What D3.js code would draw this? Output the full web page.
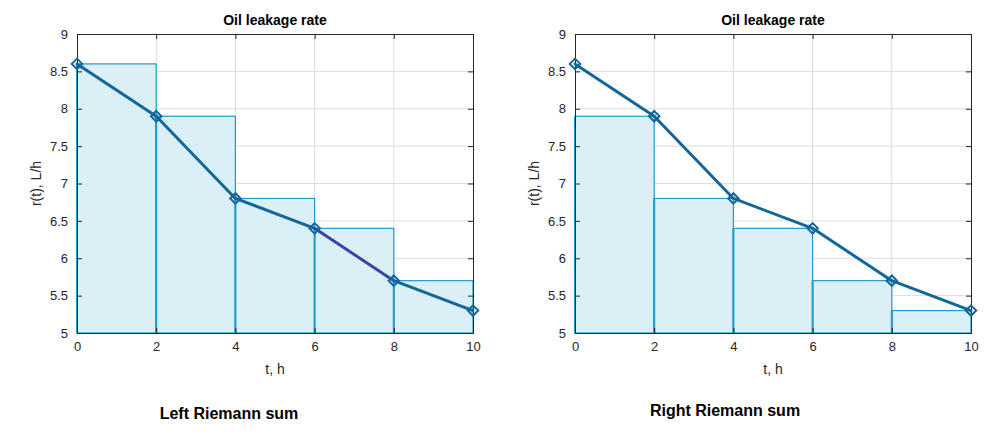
<!DOCTYPE html>
<html>
<head>
<meta charset="utf-8">
<script src="https://cdn.jsdelivr.net/npm/d3@7"></script>
<style>
  body { margin: 0; background: #fff; }
  svg { display: block; font-family: "Liberation Sans", Arial, sans-serif; }
</style>
</head>
<body>
<svg id="chart" width="993" height="438"></svg>
<script>
// ── Data ─────────────────────────────────────────────────────────
const times = [0, 2, 4, 6, 8, 10];
const rates = [8.6, 7.9, 6.8, 6.4, 5.7, 5.3];
const xTicks = [0, 2, 4, 6, 8, 10];
const yTicks = [5, 5.5, 6, 6.5, 7, 7.5, 8, 8.5, 9];
const panelNames = ['Left Riemann sum', 'Right Riemann sum'];

const svg = d3.select('#chart');

const panels = [
  { left: 77, right: 473, top: 34, bottom: 333, mode: 'left', caption: panelNames[0], capX: 229, capY: 419 },
  { left: 575, right: 971, top: 34, bottom: 333, mode: 'right', caption: panelNames[1], capX: 725, capY: 416 },
];

const LINE = '#12679a';
const RECT_STROKE = '#1f9bcb';
const RECT_FILL = '#dbeff6';

panels.forEach(p => drawPanel(p));

function drawPanel(p) {
  const x = d3.scaleLinear().domain([0, 10]).range([p.left, p.right]);
  const y = d3.scaleLinear().domain([5, 9]).range([p.bottom, p.top]);
  const g = svg.append('g');

  // grid
  g.selectAll('.gx').data(xTicks.slice(1, -1)).enter().append('line')
    .attr('x1', d => x(d)).attr('x2', d => x(d))
    .attr('y1', p.top).attr('y2', p.bottom)
    .attr('stroke', '#dcdcdc').attr('stroke-width', 1);
  g.selectAll('.gy').data(yTicks.slice(1, -1)).enter().append('line')
    .attr('y1', d => y(d)).attr('y2', d => y(d))
    .attr('x1', p.left).attr('x2', p.right)
    .attr('stroke', '#dcdcdc').attr('stroke-width', 1);

  // Riemann rectangles
  const rects = d3.range(times.length - 1).map(i => ({
    t0: times[i],
    t1: times[i + 1],
    h: p.mode === 'left' ? rates[i] : rates[i + 1],
  }));
  g.selectAll('.bar').data(rects).enter().append('rect')
    .attr('x', d => x(d.t0))
    .attr('y', d => y(d.h))
    .attr('width', d => x(d.t1) - x(d.t0))
    .attr('height', d => y(5) - y(d.h))
    .attr('fill', RECT_FILL)
    .attr('stroke', RECT_STROKE)
    .attr('stroke-width', 1.2);
  // stronger left edge of each rect
  g.selectAll('.edge').data(rects).enter().append('line')
    .attr('x1', d => x(d.t0)).attr('x2', d => x(d.t0))
    .attr('y1', d => y(d.h)).attr('y2', y(5))
    .attr('stroke', RECT_STROKE).attr('stroke-width', 2);

  // axes box
  const xAxis = d3.axisBottom(x).tickValues(xTicks).tickSize(-5).tickPadding(9).tickFormat(d3.format('d'));
  const yAxis = d3.axisLeft(y).tickValues(yTicks).tickSize(-5).tickPadding(9).tickFormat(d => d);
  const xTop = d3.axisTop(x).tickValues(xTicks).tickSize(-5).tickFormat('');
  const yRight = d3.axisRight(y).tickValues(yTicks).tickSize(-5).tickFormat('');

  [
    [xAxis, `translate(0,${p.bottom})`],
    [yAxis, `translate(${p.left},0)`],
    [xTop, `translate(0,${p.top})`],
    [yRight, `translate(${p.right},0)`],
  ].forEach(([ax, tr]) => {
    const a = g.append('g').attr('transform', tr).call(ax);
    a.select('.domain').attr('stroke', '#262626').attr('stroke-width', 1);
    a.selectAll('.tick line').attr('stroke', '#262626');
    a.selectAll('text').attr('fill', '#262626').attr('font-size', 13)
      .attr('font-family', '"Liberation Sans", Arial, sans-serif');
  });

  // line segments
  const segs = d3.range(times.length - 1).map(i => ({
    a: [times[i], rates[i]], b: [times[i + 1], rates[i + 1]],
    color: (p.mode === 'left' && i === 3) ? '#3946a6' : LINE,
  }));
  g.selectAll('.seg').data(segs).enter().append('line')
    .attr('x1', d => x(d.a[0])).attr('y1', d => y(d.a[1]))
    .attr('x2', d => x(d.b[0])).attr('y2', d => y(d.b[1]))
    .attr('stroke', d => d.color).attr('stroke-width', 3)
    .attr('stroke-linecap', 'round');

  // diamond markers
  const diamond = d3.symbol().type(d3.symbolDiamond2 || d3.symbolDiamond).size(70);
  g.selectAll('.mk').data(times).enter().append('path')
    .attr('d', diamond)
    .attr('transform', (d, i) => `translate(${x(d)},${y(rates[i])})`)
    .attr('fill', 'none')
    .attr('stroke', LINE)
    .attr('stroke-width', 2);

  // titles & labels
  g.append('text')
    .attr('x', (p.left + p.right) / 2).attr('y', 25)
    .attr('text-anchor', 'middle').attr('font-size', 14).attr('font-weight', 'bold')
    .attr('fill', '#000').text('Oil leakage rate');
  g.append('text')
    .attr('x', (p.left + p.right) / 2).attr('y', 374)
    .attr('text-anchor', 'middle').attr('font-size', 14).attr('fill', '#262626')
    .text('t, h');
  g.append('text')
    .attr('transform', `translate(${p.left - 36},${(p.top + p.bottom) / 2}) rotate(-90)`)
    .attr('text-anchor', 'middle').attr('font-size', 14).attr('fill', '#262626')
    .text('r(t), L/h');
  g.append('text')
    .attr('x', p.capX).attr('y', p.capY)
    .attr('text-anchor', 'middle').attr('font-size', 16).attr('font-weight', 'bold')
    .attr('fill', '#000').text(p.caption);
}
</script>
</body>
</html>
